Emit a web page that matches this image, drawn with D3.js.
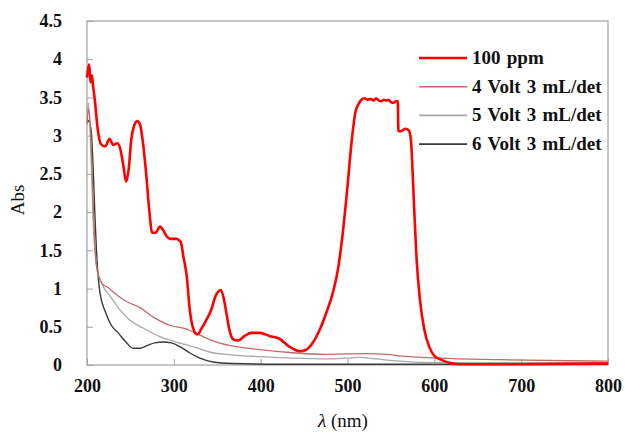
<!DOCTYPE html>
<html>
<head>
<meta charset="utf-8">
<script src="https://cdn.jsdelivr.net/npm/d3@7"></script>
<style>
  body { margin: 0; background: #fff; }
  svg { display: block; font-family: "Liberation Serif", "Times New Roman", serif; }
</style>
</head>
<body>
<svg id="chart" width="625" height="434"></svg>
<script>
// wavelength (nm) / absorbance pairs
const ppm100 = [
    [200, 3.76], [202.6, 3.93], [204, 3.70], [205.7, 3.79], [207, 3.65], [209, 3.47],
    [212, 3.12], [216, 2.89], [221, 2.86], [226, 2.96], [230, 2.88], [235, 2.90],
    [238, 2.84], [242, 2.60], [245, 2.40], [248, 2.56], [251, 2.95], [254, 3.12],
    [258, 3.19], [261, 3.15], [264, 2.95], [268, 2.52], [272, 1.99], [275, 1.73],
    [279, 1.73], [284, 1.81], [288, 1.76], [292, 1.68], [297, 1.65], [303, 1.65],
    [308, 1.61], [311, 1.42], [315, 1.15], [318, 0.76], [322, 0.49], [327, 0.40],
    [332, 0.48], [337.5, 0.59], [343, 0.72], [348, 0.90], [354, 0.98], [357.5, 0.87],
    [360.5, 0.68], [364, 0.46], [368, 0.34], [374, 0.32], [381.6, 0.38], [389, 0.42],
    [399, 0.42], [410, 0.38], [422, 0.34], [433, 0.24], [445, 0.18], [452.5, 0.20],
    [460, 0.29], [468, 0.46], [475.5, 0.68], [483, 0.94], [489, 1.25], [494.6, 1.73],
    [500, 2.34], [505, 2.95], [509, 3.30], [513, 3.42], [516, 3.47], [519.5, 3.49],
    [523, 3.47], [527, 3.48], [530, 3.46], [533, 3.49], [536, 3.46], [539, 3.45],
    [542, 3.47], [544.5, 3.46], [547, 3.47], [550, 3.44], [553, 3.43], [556, 3.45],
    [558, 3.45], [558.6, 3.06], [561.6, 3.06], [566.7, 3.09], [570.5, 3.07], [573, 2.95],
    [575, 2.52], [577, 1.99], [579.6, 1.38], [583.5, 0.85], [588.5, 0.46], [594, 0.24],
    [600, 0.12], [607.7, 0.07], [617, 0.03], [629, 0.01], [700, 0.01], [800, 0.02]
];
const volt4 = [
    [200, 3.15], [201.5, 3.35], [203, 3.25], [205, 2.85], [207, 2.15], [209, 1.6],
    [211, 1.3], [214, 1.15], [217, 1.07], [224.5, 1.01], [234, 0.92], [245.6, 0.83],
    [261, 0.75], [276, 0.63], [295, 0.52], [315, 0.47], [330, 0.39], [349, 0.30],
    [372, 0.24], [399, 0.20], [437, 0.16], [475, 0.14], [521, 0.15], [545, 0.14],
    [560, 0.12], [606, 0.09], [675, 0.07], [800, 0.05]
];
const volt5 = [
    [200, 3.3], [201.5, 3.43], [203, 3.2], [205, 2.6], [207, 1.9], [209, 1.5],
    [212, 1.22], [215, 1.12], [220, 1.0], [226, 0.91], [238, 0.72], [249, 0.59],
    [265, 0.48], [284, 0.37], [303, 0.30], [322, 0.24], [341, 0.17], [368, 0.13],
    [399, 0.11], [437, 0.09], [475, 0.08], [498.5, 0.09], [514, 0.10], [533, 0.08],
    [560, 0.05], [606, 0.03], [800, 0.03]
];
const volt6 = [
    [200, 3.21], [203, 3.17], [205, 3.04], [207, 2.6], [209, 1.99], [212, 1.29],
    [215, 0.94], [221, 0.70], [228, 0.52], [236, 0.42], [245.6, 0.29], [253, 0.22],
    [261, 0.22], [268.5, 0.25], [278, 0.29], [288, 0.30], [297, 0.29], [307, 0.24],
    [318, 0.16], [330, 0.09], [345, 0.04], [368, 0.02], [420, 0.01], [800, 0.01]
];

const seriesNames = ["100 ppm", "4 Volt 3 mL/det", "5 Volt 3 mL/det", "6 Volt 3 mL/det"];
const seriesColors = ["#ff0000", "#c06a6a", "#a8a8a8", "#3a3a3a"];
const seriesWidths = [2.6, 1.3, 1.3, 1.4];
const xTicks = [200, 300, 400, 500, 600, 700, 800];
const yTicks = [0, 0.5, 1, 1.5, 2, 2.5, 3, 3.5, 4, 4.5];

const svg = d3.select("#chart");
const plotLeft = 87, plotRight = 608, plotTop = 21, plotBottom = 365;

const x = d3.scaleLinear().domain([200, 800]).range([plotLeft, plotRight]);
const y = d3.scaleLinear().domain([0, 4.5]).range([plotBottom, plotTop]);

// frame
svg.append("rect")
    .attr("x", plotLeft).attr("y", plotTop)
    .attr("width", plotRight - plotLeft).attr("height", plotBottom - plotTop)
    .attr("fill", "none").attr("stroke", "#a0a0a0").attr("stroke-width", 1.2);

// axes with inner ticks
const xAxis = svg.append("g")
    .attr("transform", `translate(0,${plotBottom})`)
    .call(d3.axisBottom(x).tickValues(xTicks).tickSizeInner(-6).tickSizeOuter(0).tickPadding(14));
const yAxis = svg.append("g")
    .attr("transform", `translate(${plotLeft},0)`)
    .call(d3.axisLeft(y).tickValues(yTicks).tickSizeInner(-6).tickSizeOuter(0).tickPadding(25)
        .tickFormat(d => d));

[xAxis, yAxis].forEach(g => {
    g.select(".domain").remove();
    g.selectAll(".tick line").attr("stroke", "#a0a0a0");
    g.selectAll(".tick text")
        .attr("fill", "#111")
        .style("font-size", "18px")
        .style("font-weight", "bold")
        .style("font-family", "'Liberation Serif', serif");
});

// curves
const line = d3.line()
    .x(d => x(d[0]))
    .y(d => y(d[1]))
    .curve(d3.curveMonotoneX);

const allSeries = [ppm100, volt4, volt5, volt6];
// draw thin ones first, red on top
[3, 2, 1, 0].forEach(i => {
    svg.append("path")
        .datum(allSeries[i])
        .attr("d", line)
        .attr("fill", "none")
        .attr("stroke", seriesColors[i])
        .attr("stroke-width", seriesWidths[i])
        .attr("stroke-linejoin", "round");
});

// legend
const legend = svg.append("g");
seriesNames.forEach((name, i) => {
    const ly = 58 + i * 28.7;
    legend.append("line")
        .attr("x1", 419).attr("x2", 467)
        .attr("y1", ly).attr("y2", ly)
        .attr("stroke", seriesColors[i])
        .attr("stroke-width", i === 0 ? 2.6 : 1.6);
    legend.append("text")
        .attr("x", 472).attr("y", ly + 6)
        .style("font-size", "19px")
        .style("font-weight", "bold")
        .style("word-spacing", "1.5px")
        .attr("fill", "#111")
        .text(name);
});

// axis titles
svg.append("text")
    .attr("transform", "translate(24,200) rotate(-90)")
    .attr("text-anchor", "middle")
    .style("font-size", "19px")
    .attr("fill", "#111")
    .text("Abs");

const xt = svg.append("text")
    .attr("x", 343).attr("y", 427)
    .attr("text-anchor", "middle")
    .style("font-size", "19px")
    .attr("fill", "#111");
xt.append("tspan").style("font-style", "italic").text("λ");
xt.append("tspan").text(" (nm)");
</script>
</body>
</html>
